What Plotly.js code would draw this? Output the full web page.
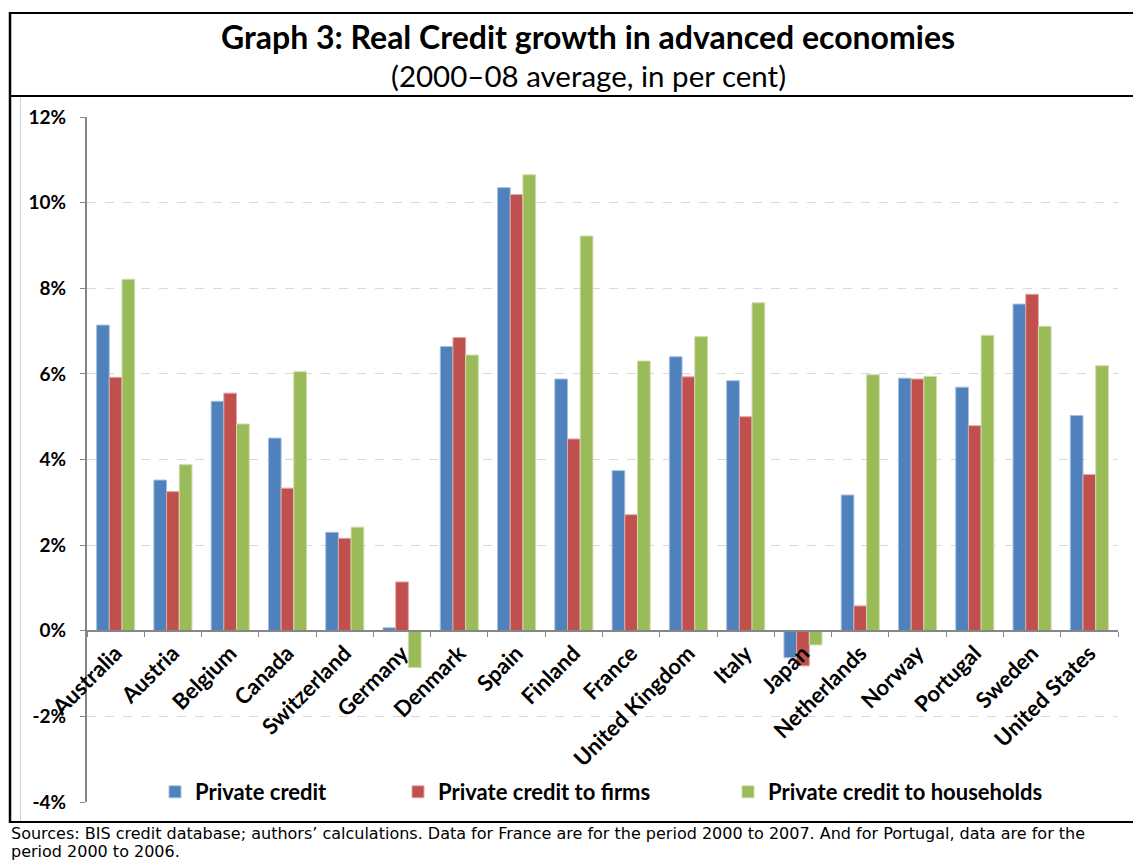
<!DOCTYPE html>
<html>
<head>
<meta charset="utf-8">
<script src="https://cdn.plot.ly/plotly-3.0.1.min.js"></script>
<style>html,body{margin:0;padding:0;background:#fff;overflow:hidden}#chart{width:1133px;height:863px}</style>
</head>
<body>
<div id="chart"></div>
<script>
const countries = ["Australia","Austria","Belgium","Canada","Switzerland","Germany","Denmark","Spain","Finland","France","United Kingdom","Italy","Japan","Netherlands","Norway","Portugal","Sweden","United States"];
const privateCredit = [7.14,3.52,5.36,4.50,2.30,0.07,6.64,10.35,5.88,3.74,6.40,5.84,-0.63,3.17,5.90,5.69,7.63,5.03];
const creditFirms = [5.92,3.25,5.55,3.33,2.16,1.14,6.85,10.19,4.48,2.71,5.93,5.00,-0.82,0.58,5.88,4.79,7.86,3.65];
const creditHouseholds = [8.21,3.88,4.83,6.05,2.42,-0.86,6.44,10.65,9.22,6.30,6.87,7.66,-0.33,5.98,5.94,6.90,7.11,6.19];
const seriesNames = ["Private credit","Private credit to firms","Private credit to households"];
const yTickVals = [-4,-2,0,2,4,6,8,10,12];
const yTickText = ["-4%","-2%","0%","2%","4%","6%","8%","10%","12%"];
const titleText = "Graph 3: Real Credit growth in advanced economies";
const subtitleText = "(2000–08 average, in per cent)";
const sourceLine1 = "Sources: BIS credit database; authors’ calculations. Data for France are for the period 2000 to 2007. And for Portugal, data are for the";
const sourceLine2 = "period 2000 to 2006.";

const L = 87, R = 1118, T = 117, B = 802;
const px = p => (p - L) / (R - L);
const py = p => (B - p) / (B - T);

const colors = ["#4F81BD","#C0504D","#9BBB59"];
const lineCols = ["#a7c0de","#e0a8a6","#cddcac"];
const vals = [privateCredit, creditFirms, creditHouseholds];
const legends = ["legend","legend2","legend3"];
const traces = vals.map((v,i) => ({
  type: "bar", x: countries, y: v, name: seriesNames[i],
  marker: {color: colors[i], line: {color: lineCols[i], width: 1}},
  legend: legends[i], hoverinfo: "x+y"
}));

const font = "Lato, 'Open Sans', sans-serif";
const legendFont = {family: font, size: 22, color: "#000", weight: "bold"};
const mkLegend = x => ({x: x, y: py(792), xanchor: "left", yanchor: "middle", orientation: "h",
  bgcolor: "rgba(0,0,0,0)", borderwidth: 0, font: legendFont, itemwidth: 30});

const frame = {color: "#000", width: 2};
const srcFont = {family: "'DejaVu Sans', Arial, sans-serif", size: 16, color: "#000"};
const layout = {
  width: 1133, height: 863,
  margin: {l: L, r: 1133 - R, t: T, b: 863 - B},
  paper_bgcolor: "#fff", plot_bgcolor: "#fff",
  barmode: "group", bargap: 0.335, bargroupgap: 0,
  showlegend: true,
  legend: mkLegend(px(155)),
  legend2: mkLegend(px(398)),
  legend3: mkLegend(px(728)),
  xaxis: {
    type: "category", anchor: "free", position: 0.25,
    showline: true, linecolor: "#868686", linewidth: 2,
    ticks: "outside", tickson: "boundaries", ticklen: 5, tickcolor: "#868686", tickwidth: 1,
    tickangle: -45, tickfont: {family: font, size: 22, color: "#000", weight: "bold"},
    showgrid: false, zeroline: false, automargin: false
  },
  yaxis: {
    range: [-4, 12], tickvals: yTickVals, ticktext: yTickText,
    showline: true, linecolor: "#868686", linewidth: 2,
    ticks: "outside", ticklen: 5, tickcolor: "#868686", tickwidth: 1,
    showgrid: true, gridcolor: "#d9d9d9", griddash: "dash", gridwidth: 1,
    zeroline: false, ticklabelstandoff: 10,
    tickfont: {family: font, size: 19, color: "#000", weight: "bold"}, automargin: false
  },
  shapes: [
    {type: "line", xref: "paper", yref: "paper", x0: px(10), x1: px(1140), y0: py(13), y1: py(13), line: frame},
    {type: "line", xref: "paper", yref: "paper", x0: px(10), x1: px(1140), y0: py(96), y1: py(96), line: frame},
    {type: "line", xref: "paper", yref: "paper", x0: px(10), x1: px(1140), y0: py(822), y1: py(822), line: frame},
    {type: "line", xref: "paper", yref: "paper", x0: px(10), x1: px(10), y0: py(12), y1: py(823), line: {color: "#000", width: 2.5}},
    {type: "line", xref: "paper", yref: "paper", x0: px(20.5), x1: px(20.5), y0: py(97), y1: py(821), line: {color: "#d0d0d0", width: 1}}
  ],
  annotations: [
    {xref: "paper", yref: "paper", x: px(588), y: py(37), text: "<b>" + titleText + "</b>", showarrow: false,
     xanchor: "center", yanchor: "middle", font: {family: font, size: 32, color: "#000"}},
    {xref: "paper", yref: "paper", x: px(588), y: py(76), text: subtitleText, showarrow: false,
     xanchor: "center", yanchor: "middle", font: {family: font, size: 29.5, color: "#000"}},
    {xref: "paper", yref: "paper", x: px(9), y: py(833), text: sourceLine1, showarrow: false,
     xanchor: "left", yanchor: "middle", align: "left", font: srcFont},
    {xref: "paper", yref: "paper", x: px(9), y: py(851), text: sourceLine2, showarrow: false,
     xanchor: "left", yanchor: "middle", align: "left", font: srcFont}
  ]
};
Plotly.newPlot("chart", traces, layout, {displayModeBar: false, responsive: false});
</script>
</body>
</html>
